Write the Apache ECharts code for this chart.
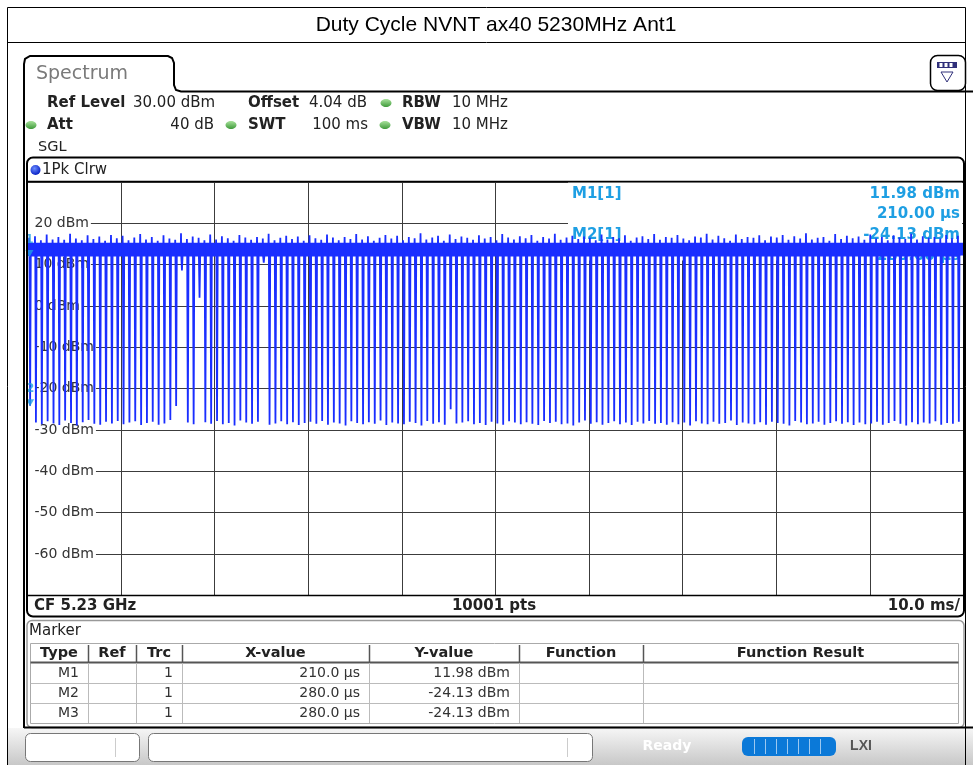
<!DOCTYPE html>
<html><head><meta charset="utf-8">
<script src="https://cdn.jsdelivr.net/npm/echarts@6/dist/echarts.min.js"></script>
<style>html,body{margin:0;padding:0;background:#fff}#c{width:973px;height:765px}</style>
</head><body><div id="c"></div>
<script>
// ---------------- data ----------------
const chartTitle = 'Duty Cycle NVNT ax40 5230MHz Ant1';
const xMin = 0, xMax = 100, xStep = 10;          // time, ms (10.0 ms/div)
const yMin = -70, yMax = 30, yStep = 10;         // level, dBm
const yTickValues = [20, 10, 0, -10, -20, -30, -40, -50, -60];
const yTickLabels = ['20 dBm', '10 dBm', '0 dBm', '-10 dBm', '-20 dBm', '-30 dBm', '-40 dBm', '-50 dBm', '-60 dBm'];

// trace: burst "on" level band and the off-gaps (dips) between bursts
const bandLow = 12.2, bandHigh = 15.3;           // dBm
const dipTimes = [
  0.28, 0.90, 1.53, 2.15, 2.78, 3.40, 4.02, 4.65, 5.27, 5.90, 6.52, 7.14, 7.77, 8.39, 9.02, 9.64,
  10.26, 10.89, 11.51, 12.14, 12.76, 13.38, 14.01, 14.63, 15.26, 15.88, 16.50, 17.13, 17.75, 18.38, 19.00, 19.62,
  20.25, 20.87, 21.50, 22.12, 22.74, 23.37, 23.99, 24.62, 25.24, 25.86, 26.49, 27.11, 27.74, 28.36, 28.98, 29.61,
  30.23, 30.86, 31.48, 32.10, 32.73, 33.35, 33.98, 34.60, 35.22, 35.85, 36.47, 37.10, 37.72, 38.34, 38.97, 39.59,
  40.22, 40.84, 41.46, 42.09, 42.71, 43.34, 43.96, 44.58, 45.21, 45.83, 46.46, 47.08, 47.70, 48.33, 48.95, 49.58,
  50.20, 50.82, 51.45, 52.07, 52.70, 53.32, 53.94, 54.57, 55.19, 55.82, 56.44, 57.06, 57.69, 58.31, 58.94, 59.56,
  60.18, 60.81, 61.43, 62.06, 62.68, 63.30, 63.93, 64.55, 65.18, 65.80, 66.42, 67.05, 67.67, 68.30, 68.92, 69.54,
  70.17, 70.79, 71.42, 72.04, 72.66, 73.29, 73.91, 74.54, 75.16, 75.78, 76.41, 77.03, 77.66, 78.28, 78.90, 79.53,
  80.15, 80.78, 81.40, 82.02, 82.65, 83.27, 83.90, 84.52, 85.14, 85.77, 86.39, 87.02, 87.64, 88.26, 88.89, 89.51,
  90.14, 90.76, 91.38, 92.01, 92.63, 93.26, 93.88, 94.50, 95.13, 95.75, 96.38, 97.00, 97.62, 98.25, 98.87, 99.50
];
const dipLevels = [
  -24.1, -28.2, -28.6, -27.9, -28.4, -28.8, -27.7, -28.3, -28.9, -28.1, -27.6, -28.5, -28.7, -28.0, -28.4, -27.8,
  -28.6, -28.2, -27.9, -28.8, -28.3, -28.0, -28.7, -28.4, -27.6, -24.2, 8.6, -28.2, -28.6, 2.0, -28.1, -28.5,
  -27.8, -28.6, -28.3, -28.9, -27.7, -28.2, -28.5, -28.0, 10.5, -28.7, -28.4, -27.9, -28.6, -28.1, -28.8, -28.3,
  -28.0, -28.5, -27.8, -28.7, -28.2, -28.4, -28.9, -27.9, -28.3, -28.6, -28.1, -28.5, -27.7, -28.8, -28.2, -28.4,
  -28.6, -28.0, -28.3, -28.9, -27.8, -28.5, -28.1, -28.7, -25.0, -28.4, -28.2, -27.9, -28.6, -28.3, -28.8, -28.0,
  -28.4, -28.7, -27.9, -28.2, -28.6, -28.1, -28.5, -28.8, -27.8, -28.3, -28.0, -28.6, -28.4, -28.9, -28.2, -27.7,
  -28.5, -28.1, -28.7, -28.3, -27.9, -28.6, -28.2, -28.8, -28.0, -28.4, -27.8, -28.5, -28.3, -28.7, -28.1, -28.6,
  -28.2, -28.9, -27.9, -28.4, -28.6, -28.0, -28.5, -28.3, -27.7, -28.8, -28.2, -28.4, -28.6, -28.1, -28.7, -28.0,
  -28.3, -28.5, -28.9, -27.8, -28.2, -28.6, -28.4, -28.0, -28.7, -28.3, -27.9, -28.5, -28.1, -28.8, -28.2, -28.6,
  -28.4, -28.0, -28.7, -28.3, -27.8, -28.5, -28.9, -28.1, -28.6, -28.2, -28.4, -27.9, -28.7, -28.3, -28.5, -28.0
];
const peakLevels = [
  16.5, 16.9, 15.9, 17.3, 16.1, 16.7, 16.0, 17.5, 16.3, 15.9, 17.1, 16.2, 16.8, 15.8, 17.2, 16.4,
  17.0, 15.9, 16.6, 17.4, 16.1, 16.7, 15.8, 17.1, 16.3, 16.0, 17.6, 16.2, 16.8, 16.5, 15.9, 17.3,
  16.1, 16.9, 16.4, 15.8, 17.2, 16.6, 16.0, 16.7, 16.3, 17.5, 15.9, 16.5, 17.0, 16.2, 16.8, 15.8,
  17.1, 16.4, 16.0, 17.3, 16.6, 15.9, 16.7, 16.2, 17.4, 16.1, 16.9, 15.8, 16.5, 17.2, 16.3, 17.0,
  15.9, 16.7, 16.4, 17.6, 16.1, 16.6, 17.0, 15.8, 17.3, 16.2, 16.8, 16.5, 16.0, 17.1, 16.3, 16.7,
  15.9, 17.4, 16.6, 16.1, 16.9, 16.4, 17.2, 15.8, 16.7, 16.3, 17.5, 16.0, 16.6, 17.0, 16.2, 16.8,
  16.5, 15.9, 17.3, 16.1, 16.7, 16.4, 17.1, 15.8, 16.6, 16.9, 16.2, 17.4, 16.0, 16.7, 16.5, 17.2,
  16.3, 15.9, 16.8, 16.6, 17.5, 16.1, 17.0, 16.4, 15.8, 17.3, 16.2, 16.7, 16.5, 17.1, 15.9, 16.8,
  16.6, 17.2, 16.0, 16.9, 16.3, 17.6, 16.1, 16.5, 16.7, 15.8, 17.4, 16.2, 17.0, 16.4, 16.8, 16.0,
  17.3, 16.3, 16.7, 15.9, 17.1, 16.6, 16.2, 17.5, 16.1, 16.9, 16.5, 16.7, 16.3, 17.2, 16.4, 17.0
];

// markers
const markerNames = ['1', '2'];
const markerX = [0.21, 0.28];      // ms
const markerY = [11.98, -24.13];   // dBm
const markerInfo = [['M1[1]', '11.98 dBm', '210.00 µs'], ['M2[1]', '-24.13 dBm', '280.00 µs']];

// instrument header / footer texts
const headerRow1 = [['Ref Level', true], ['30.00 dBm', false], ['Offset', true], ['4.04 dB', false], ['RBW', true], ['10 MHz', false]];
const headerRow2 = [['Att', true], ['40 dB', false], ['SWT', true], ['100 ms', false], ['VBW', true], ['10 MHz', false]];
const footer = ['CF 5.23 GHz', '10001 pts', '10.0 ms/'];
const tableHeader = ['Type', 'Ref', 'Trc', 'X-value', 'Y-value', 'Function', 'Function Result'];
const tableRows = [
  ['M1', '', '1', '210.0 µs', '11.98 dBm', '', ''],
  ['M2', '', '1', '280.0 µs', '-24.13 dBm', '', ''],
  ['M3', '', '1', '280.0 µs', '-24.13 dBm', '', '']
];

// ---------------- build ----------------
const TRACE = '#1a2eff';
const MK = '#1e9fe3';
const FF = 'DejaVu Sans';

const traceData = [[xMin, 13.5]];
dipTimes.forEach((t, i) => {
  traceData.push([t - 0.14, bandLow]);
  traceData.push([t - 0.10, peakLevels[i]]);
  traceData.push([t - 0.07, bandLow]);
  traceData.push([t, dipLevels[i]]);
  traceData.push([t + 0.07, bandLow]);
});
traceData.push([xMax, 13.5]);

const labelMap = {};
yTickValues.forEach((v, i) => { labelMap[v] = yTickLabels[i]; });

const G = [];
function txt(x, y, s, o) {
  o = o || {};
  G.push({ type: 'text', x: x, y: y, z: o.z == null ? 10 : o.z, silent: true,
    style: { text: s, fill: o.fill || '#222', font: (o.bold ? 'bold ' : '') + (o.size || 15) + 'px ' + (o.family || FF),
      textAlign: o.align || 'left', textVerticalAlign: 'middle' } });
}
function line(x1, y1, x2, y2, c, w, z) {
  G.push({ type: 'line', z: z || 10, silent: true, shape: { x1: x1, y1: y1, x2: x2, y2: y2 }, style: { stroke: c, lineWidth: w } });
}
function rect(x, y, w, h, o) {
  G.push({ type: 'rect', z: o.z == null ? 10 : o.z, silent: true, shape: { x: x, y: y, width: w, height: h, r: o.r || 0 },
    style: { fill: o.fill || 'none', stroke: o.stroke || 'none', lineWidth: o.lw || 1 } });
}
function dot(x, y) {
  G.push({ type: 'ellipse', z: 10, silent: true, shape: { cx: x, cy: y, rx: 5.5, ry: 4 },
    style: { fill: new echarts.graphic.LinearGradient(0, 0, 0, 1, [{ offset: 0, color: '#a8e29c' }, { offset: 1, color: '#3f9a3a' }]) } });
}

// outer report frame + title
rect(7.5, 7.5, 958, 775, { stroke: '#000', lw: 1 });
line(7.5, 42.5, 965.5, 42.5, '#000', 1);
txt(496, 25, chartTitle, { family: 'Liberation Sans', size: 21, align: 'center', fill: '#000' });

// bottom status area
G.push({ type: 'rect', z: 1, silent: true, shape: { x: 8, y: 728, width: 965, height: 40 },
  style: { fill: new echarts.graphic.LinearGradient(0, 0, 0, 1, [{ offset: 0, color: '#f6f6f6' }, { offset: 1, color: '#c4c4c4' }]) } });
rect(25.5, 733.5, 114, 28, { r: 5, fill: '#fff', stroke: '#777', z: 5 });
line(115.5, 738, 115.5, 757, '#ccc', 1);
rect(148.5, 733.5, 444, 28, { r: 5, fill: '#fff', stroke: '#777', z: 5 });
line(567.5, 738, 567.5, 757, '#ccc', 1);
txt(667, 746, 'Ready', { bold: true, fill: '#fff', align: 'center', size: 14 });
rect(742, 737, 94, 19, { r: 6, fill: '#0b79d8', z: 5 });
[754, 765, 776, 787, 798, 809, 820].forEach(x => line(x + 0.5, 739, x + 0.5, 754, '#9cc8f0', 1));
txt(861, 746, 'LXI', { bold: true, fill: '#555', align: 'center', size: 14, family: 'Liberation Sans' });

// spectrum tab + window
G.push({ type: 'polyline', z: 10, silent: true,
  shape: { points: [[24, 728], [24, 64], [25, 59], [30, 56], [168, 56], [172, 58], [174, 63], [174, 85], [176, 90], [181, 91.5], [973, 91.5]] },
  style: { stroke: '#000', lineWidth: 2, fill: 'none' } });
txt(36, 74, 'Spectrum', { size: 19, fill: '#7a7a7a' });
rect(930.5, 55.5, 35, 35, { r: 7, stroke: '#000', lw: 1.5 });
rect(937, 62, 20, 6, { fill: '#30307a' });
[941.5, 946.5, 951.5].forEach(x => rect(x - 2, 63, 3, 4, { fill: '#fff' }));
G.push({ type: 'polygon', z: 10, silent: true, shape: { points: [[941, 72], [953, 72], [947, 82]] }, style: { fill: '#fff', stroke: '#30307a', lineWidth: 1 } });

// header
const r1x = [47, 133, 248, 309, 402, 452];
headerRow1.forEach((h, i) => txt(r1x[i], 103, h[0], { bold: h[1] }));
const r2x = [47, 214, 248, 368, 402, 452];
headerRow2.forEach((h, i) => txt(r2x[i], 125, h[0], { bold: h[1], align: (i === 1 || i === 3) ? 'right' : 'left' }));
[[386, 103], [31, 125], [231, 125], [385, 125]].forEach(p => dot(p[0], p[1]));
txt(38, 147, 'SGL', { size: 14.5 });

// trace panel
rect(27, 157.5, 937, 459, { r: 6, stroke: '#000', lw: 2, z: 12 });
line(27, 181.5, 964, 181.5, '#000', 1.5, 12);
line(27, 595.5, 964, 595.5, '#000', 1.5, 12);
G.push({ type: 'circle', z: 10, silent: true, shape: { cx: 35.5, cy: 170, r: 5 },
  style: { fill: new echarts.graphic.RadialGradient(0.4, 0.35, 0.7, [{ offset: 0, color: '#6a8cff' }, { offset: 1, color: '#0018c0' }]) } });
txt(42, 170, '1Pk Clrw', {});
txt(34, 606, footer[0], { bold: true });
txt(494, 606, footer[1], { bold: true, align: 'center' });
txt(960, 606, footer[2], { bold: true, align: 'right' });

// marker info box (drawn above grid, below trace)
rect(568, 182.5, 394, 78, { fill: '#fff', z: 1 });
const mkOpt = { bold: true, fill: MK, z: 1 };
txt(572, 194, markerInfo[0][0], mkOpt);
txt(960, 194, markerInfo[0][1], Object.assign({ align: 'right' }, mkOpt));
txt(960, 214, markerInfo[0][2], Object.assign({ align: 'right' }, mkOpt));
txt(572, 235, markerInfo[1][0], mkOpt);
txt(960, 235, markerInfo[1][1], Object.assign({ align: 'right' }, mkOpt));
txt(960, 256, markerInfo[1][2], Object.assign({ align: 'right' }, mkOpt));

// marker table panel
rect(27, 620.5, 937, 107, { r: 5, stroke: '#999', lw: 1.5 });
line(24, 727.5, 973, 727.5, '#000', 2);
txt(29, 631, 'Marker', {});
const colX = [30, 88, 136, 182, 369, 519, 643, 958];
const rowY = [643, 663, 683, 703, 723];
rect(30.5, 643.5, 928, 80, { stroke: '#aaa', lw: 1 });
line(30.5, 662.5, 958.5, 662.5, '#555', 2);
rowY.slice(2, 4).forEach(y => line(30.5, y + 0.5, 958.5, y + 0.5, '#bbb', 1));
colX.slice(1, 7).forEach(x => { line(x + 0.5, 645, x + 0.5, 662, '#555', 1.5); line(x + 0.5, 663, x + 0.5, 723, '#bbb', 1); });
tableHeader.forEach((h, i) => txt((colX[i] + colX[i + 1]) / 2, 653, h, { bold: true, align: 'center', size: 14.5 }));
tableRows.forEach((r, j) => {
  const y = rowY[j + 1] + 10;
  r.forEach((c, i) => { if (c) txt(colX[i + 1] - 9, y, c, { align: 'right', fill: '#333', size: 14 }); });
});

const chart = echarts.init(document.getElementById('c'), null, { renderer: 'canvas' });
chart.setOption({
  animation: false,
  backgroundColor: '#fff',
  grid: { left: 27.5, top: 182, width: 936, height: 413.4, containLabel: false },
  xAxis: {
    type: 'value', min: xMin, max: xMax, interval: xStep,
    axisLine: { show: false }, axisTick: { show: false }, axisLabel: { show: false },
    splitLine: { show: true, lineStyle: { color: '#3c3c3c', width: 1 } }, z: 0
  },
  yAxis: [
    {
      type: 'value', min: yMin, max: yMax, interval: yStep,
      axisLine: { show: false }, axisTick: { show: false }, axisLabel: { show: false },
      splitLine: { show: true, lineStyle: { color: '#3c3c3c', width: 1 } }, z: 0
    },
    {
      type: 'value', min: yMin, max: yMax, interval: yStep, position: 'left',
      axisLine: { show: false }, axisTick: { show: false }, splitLine: { show: false },
      axisLabel: {
        show: true, inside: true, margin: 0, showMinLabel: false, showMaxLabel: false,
        formatter: v => labelMap[v] || '',
        color: '#333', fontSize: 14, fontFamily: FF,
        backgroundColor: '#fff', padding: [1, 2, 1, 7]
      }, z: 1
    }
  ],
  graphic: { elements: G },
  series: [
    {
      type: 'line', data: traceData, showSymbol: false, symbol: 'none', z: 2,
      lineStyle: { color: TRACE, width: 1.8 }, silent: true,
      markArea: { silent: true, itemStyle: { color: TRACE }, data: [[{ xAxis: xMin, yAxis: bandLow }, { xAxis: xMax, yAxis: bandHigh }]] }
    },
    {
      type: 'scatter', z: 3, silent: true,
      data: markerX.map((x, i) => ({ value: [x, markerY[i]], name: markerNames[i] })),
      symbol: 'triangle', symbolRotate: 180, symbolSize: [8, 7], symbolOffset: [0, -3],
      itemStyle: { color: MK },
      label: { show: true, position: 'top', distance: 4, formatter: p => p.name, color: MK, fontSize: 12, fontFamily: FF, fontWeight: 'bold' }
    }
  ]
});
</script></body></html>
